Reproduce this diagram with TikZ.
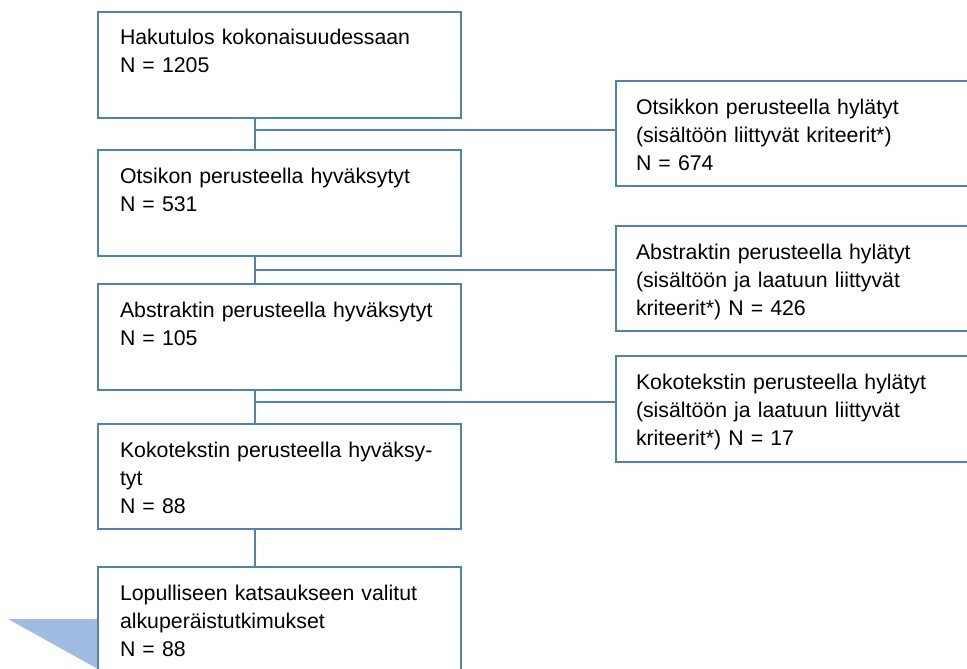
\documentclass[tikz,border=0pt]{standalone}
\usepackage{fontspec}
\setmainfont{Liberation Sans}
\usetikzlibrary{positioning}
\definecolor{reuna}{RGB}{79,129,189}
\definecolor{kolmio}{RGB}{160,188,226}
\tikzset{
    % laatikoiden perustyyli
    laatikko/.style={
           draw=reuna,
           line width=2.8pt,
           anchor=north west,
           outer sep=0pt,
           align=left,
           inner ysep=0pt,
           text height=33pt,
           font=\fontsize{21.3}{28}\selectfont,
           },
    vasen/.style={
           laatikko,
           inner xsep=22pt,
           text width=319pt,
           text depth=73pt,
           },
    oikea/.style={
           laatikko,
           inner xsep=20pt,
           text width=320pt,
           text depth=72pt,
           },
    % yhdysviivat
    viiva/.style={
           draw=reuna,
           line width=2.6pt,
           }
}
\begin{document}
\begin{tikzpicture}[x=1pt,y=-1pt]
  	\useasboundingbox (0,0) rectangle (967,669);
  	\clip (0,0) rectangle (967,669);
  	\coordinate (runko) at (255,0);
  	\coordinate (k1) at (255,130);
  	\coordinate (k2) at (255,270);
  	\coordinate (k3) at (255,402);
  	\fill[kolmio] (8,619) -- (98,619) -- (98,669) -- cycle;
  	\node[vasen] (haku) at (98,12) {Hakutulos kokonaisuudessaan\\N = 1205};
  	\node[vasen] (otsikko) at (98,150) {Otsikon perusteella hyväksytyt\\N = 531};
  	\node[vasen] (abstrakti) at (98,284) {Abstraktin perusteella hyväksytyt\\N = 105};
  	\node[vasen, text depth=72pt] (koko) at (98,424) {Kokotekstin perusteella hyväksy-\\tyt\\N = 88};
  	\node[vasen] (lopullinen) at (98,567) {Lopulliseen katsaukseen valitut\\alkuperäistutkimukset\\N = 88};
  	\node[oikea] (hylk1) at (616,81) {Otsikkon perusteella hylätyt\\(sisältöön liittyvät kriteerit*)\\N = 674};
  	\node[oikea] (hylk2) at (616,226) {Abstraktin perusteella hylätyt\\(sisältöön ja laatuun liittyvät\\kriteerit*) N = 426};
  	\node[oikea, text depth=73pt] (hylk3) at (616,356) {Kokotekstin perusteella hylätyt\\(sisältöön ja laatuun liittyvät\\kriteerit*) N = 17};
%  	pystysuora runko
  	\draw[viiva] (haku.south -| runko) -- (otsikko.north -| runko);
  	\draw[viiva] (otsikko.south -| runko) -- (abstrakti.north -| runko);
  	\draw[viiva] (abstrakti.south -| runko) -- (koko.north -| runko);
  	\draw[viiva] (koko.south -| runko) -- (lopullinen.north -| runko);
%  	sivuhaarat hylättyihin
  	\draw[viiva] (k1) -- (k1 -| hylk1.west);
  	\draw[viiva] (k2) -- (k2 -| hylk2.west);
  	\draw[viiva] (k3) -- (k3 -| hylk3.west);
\end{tikzpicture}
\end{document}
